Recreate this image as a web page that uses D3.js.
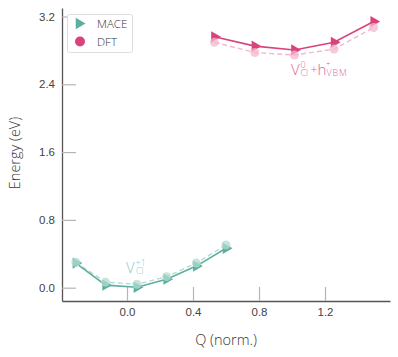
<!DOCTYPE html>
<html lang="en">
<head>
<meta charset="utf-8">
<title>Energy vs Q</title>
<script src="https://cdnjs.cloudflare.com/ajax/libs/d3/7.8.5/d3.min.js"></script>
<style>
  body { margin: 0; background: #fff; }
  svg { font-family: "Open Sans", sans-serif; font-weight: 300; }
</style>
</head>
<body>
<script>
var w = 398, h = 357;

// charged state V_Cl^+1
var qPlus = [-0.31, -0.13, 0.06, 0.24, 0.42, 0.60];
var macePlus = [0.29, 0.03, 0.005, 0.10, 0.255, 0.465];
var dftPlus = [0.30, 0.065, 0.04, 0.13, 0.29, 0.505];

// neutral state V_Cl^0 + h_VBM^+
var qNeu = [0.53, 0.775, 1.015, 1.255, 1.495];
var maceNeu = [2.96, 2.85, 2.805, 2.895, 3.14];
var dftNeu = [2.895, 2.775, 2.745, 2.815, 3.07];

var xTicks = [0.0, 0.4, 0.8, 1.2];
var yTicks = [0.0, 0.8, 1.6, 2.4, 3.2];

var teal = "#5caf9f", tealLight = "#b3dbd2";
var pink = "#d8437e", pinkLight = "#f3b8cc";

var x = d3.scaleLinear().domain([-0.394, 1.594]).range([62, 390]);
var y = d3.scaleLinear().domain([-0.157, 3.30]).range([301, 8]);

var svg = d3.select("body").append("svg")
    .attr("width", w)
    .attr("height", h);

// axes (ticks point inward)
var xAxis = svg.append("g")
    .attr("transform", "translate(0," + y(-0.157) + ")")
    .call(d3.axisBottom(x).tickValues(xTicks).tickFormat(d3.format(".1f")).tickSizeInner(-14).tickSizeOuter(0).tickPadding(7));
var yAxis = svg.append("g")
    .attr("transform", "translate(" + x(-0.394) + ",0)")
    .call(d3.axisLeft(y).tickValues(yTicks).tickFormat(d3.format(".1f")).tickSizeInner(-14).tickSizeOuter(0).tickPadding(7));

[xAxis, yAxis].forEach(function(g) {
  g.select(".domain").attr("stroke", "#555").attr("stroke-width", 1.3);
  g.selectAll(".tick line").attr("stroke", "#b5b5b5").attr("stroke-width", 1.2);
  g.selectAll(".tick text").attr("fill", "#444").attr("font-size", "11.5px");
});

svg.append("text")
    .attr("x", 226).attr("y", 345)
    .attr("text-anchor", "middle")
    .attr("font-size", "14.5px")
    .attr("fill", "#333")
    .text("Q (norm.)");

svg.append("text")
    .attr("transform", "translate(20,153) rotate(-90)")
    .attr("text-anchor", "middle")
    .attr("font-size", "14.5px")
    .attr("fill", "#333")
    .text("Energy (eV)");

var line = d3.line().x(function(d) { return x(d[0]); }).y(function(d) { return y(d[1]); });
var tri = d3.symbol().type(d3.symbolTriangle).size(55);

function drawSeries(qs, mace, dft, col, light) {
  var dPts = qs.map(function(q, i) { return [q, dft[i]]; });
  var mPts = qs.map(function(q, i) { return [q, mace[i]]; });

  svg.append("path")
      .attr("d", line(dPts))
      .attr("fill", "none")
      .attr("stroke", light)
      .attr("stroke-width", 1.4)
      .attr("stroke-dasharray", "5,3");

  svg.append("path")
      .attr("d", line(mPts))
      .attr("fill", "none")
      .attr("stroke", col)
      .attr("stroke-width", 1.6);

  svg.append("g").selectAll("path")
      .data(mPts)
      .enter()
      .append("path")
      .attr("d", tri)
      .attr("transform", function(d) { return "translate(" + x(d[0]) + "," + y(d[1]) + ") rotate(90)"; })
      .attr("fill", col);

  svg.append("g").selectAll("circle")
      .data(dPts)
      .enter()
      .append("circle")
      .attr("cx", function(d) { return x(d[0]); })
      .attr("cy", function(d) { return y(d[1]); })
      .attr("r", 4.5)
      .attr("fill", light)
      .attr("opacity", 0.75);
}

drawSeries(qPlus, macePlus, dftPlus, teal, tealLight);
drawSeries(qNeu, maceNeu, dftNeu, pink, pinkLight);

// state labels, built from small pieces
function label(parts, col) {
  parts.forEach(function(p) {
    svg.append("text")
        .attr("x", p[0]).attr("y", p[1])
        .attr("font-size", p[2] + "px")
        .attr("letter-spacing", p[4] || 0)
        .attr("fill", col)
        .text(p[3]);
  });
}

label([
  [126, 273, 15, "V"],
  [135.5, 266, 9, "+1"],
  [136, 274, 9, "Cl"]
], "#8fcabd");

label([
  [291, 75, 15, "V"],
  [300.5, 67.5, 9, "0"],
  [300.5, 76, 9, "Cl"],
  [310.5, 73.5, 12, "+"],
  [317.5, 75, 15, "h"],
  [326, 66, 7.5, "+"],
  [326.5, 76, 9, "VBM", 0.8]
], "#e0669a");

// legend
var lg = svg.append("g");
lg.append("rect")
    .attr("x", 67.5).attr("y", 14.5)
    .attr("width", 65).attr("height", 38)
    .attr("rx", 2)
    .attr("fill", "#fff")
    .attr("stroke", "#ddd");
lg.append("path")
    .attr("d", tri)
    .attr("transform", "translate(79,23.5) rotate(90)")
    .attr("fill", teal);
lg.append("circle")
    .attr("cx", 80).attr("cy", 41.5).attr("r", 5)
    .attr("fill", pink);
lg.append("text").attr("x", 97).attr("y", 28).attr("font-size", "11.5px").attr("fill", "#333").text("MACE");
lg.append("text").attr("x", 97).attr("y", 46).attr("font-size", "11.5px").attr("fill", "#333").text("DFT");
</script>
</body>
</html>
